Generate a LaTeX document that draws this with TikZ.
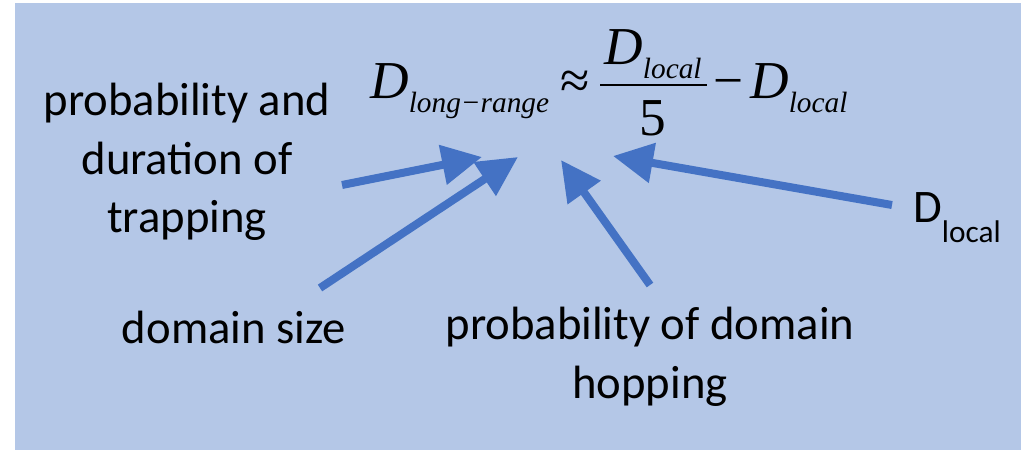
\documentclass[tikz,border=0pt]{standalone}
\usepackage{fontspec}
\setmainfont{Carlito}
\newfontfamily\eqfont{Liberation Serif}
\usetikzlibrary{arrows.meta}

\definecolor{panelblue}{HTML}{B4C7E7}
\definecolor{arrowblue}{HTML}{4472C4}

% italic D with a lowered subscript
\newcommand{\Dsub}[1]{{\eqfont\itshape\fontsize{40}{40}\selectfont D}\raisebox{-10.5pt}{\eqfont\itshape\fontsize{22}{22}\selectfont #1}}
\newcommand{\eqsym}[1]{{\eqfont\fontsize{40}{40}\selectfont #1}}

\tikzset{
  label/.style={font=\fontsize{35}{44}\selectfont, align=center, inner sep=0pt},
  eqpart/.style={inner sep=0pt},
  pointer/.style={line width=6pt, draw=arrowblue, -{Triangle[length=30pt,width=29pt]}}
}

\begin{document}
\begin{tikzpicture}[x=0.75pt,y=-0.75pt]
    % page and panel
    \useasboundingbox (0,0) rectangle (1021,450);
    \fill[panelblue] (15,3) rectangle (1021,450);

    % equation
    \node[eqpart, anchor=base west] (dlong) at (370,98) {\Dsub{long−range}};
    \node[eqpart, anchor=base] (approx) at (575,98) {\eqsym{≈}};
    \node[eqpart, anchor=base] (num) at (653,64) {\Dsub{local}};
    \node[eqpart, anchor=base] (den) at (653,135) {\eqsym{5}};
    \draw[line width=1.8pt] (600,85) -- (707,85);
    \node[eqpart, anchor=base] (minus) at (729,98) {\eqsym{−}};
    \node[eqpart, anchor=base west] (dloc) at (750,98) {\Dsub{local}};

    % labels
    \node[label] (trap) at (187,162) {probability and\\duration of\\trapping};
    \node[label, anchor=base] (size) at (234,343) {domain size};
    \node[label] (hop) at (650,357) {probability of domain\\hopping};
    \node[label, anchor=base west] (local) at (913,222)
        {D\raisebox{-15pt}{\fontsize{23.5}{24}\selectfont local}};

    % arrow ends
    \coordinate (trapTail) at (342,185);
    \coordinate (trapTip) at (482,157);
    \coordinate (sizeTail) at (320,288);
    \coordinate (sizeTip) at (518,157);
    \coordinate (hopTail) at (650,285);
    \coordinate (hopTip) at (561,160);
    \coordinate (localTail) at (892,205);
    \coordinate (localTip) at (613,156);

    % arrows
    \draw[pointer] (trapTail) -- (trapTip);
    \draw[pointer] (sizeTail) -- (sizeTip);
    \draw[pointer] (hopTail) -- (hopTip);
    \draw[pointer] (localTail) -- (localTip);
\end{tikzpicture}
\end{document}
